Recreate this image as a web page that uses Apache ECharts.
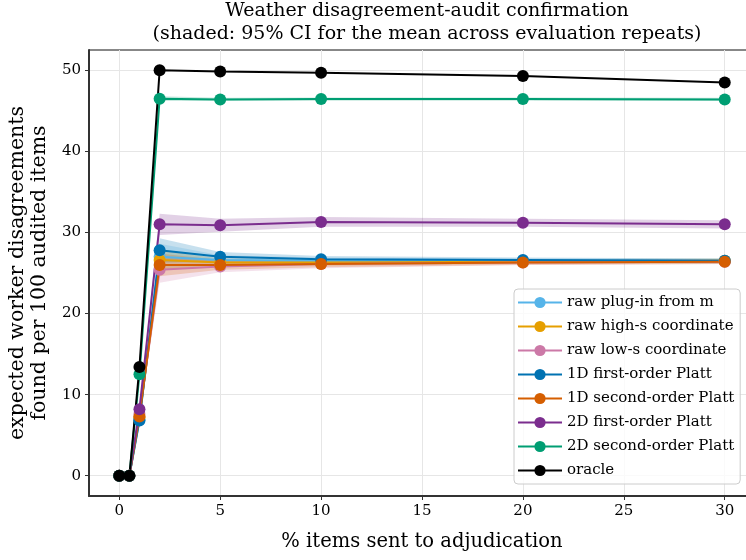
<!DOCTYPE html>
<html>
<head>
<meta charset="utf-8">
<script src="https://cdn.jsdelivr.net/npm/echarts@6/dist/echarts.min.js"></script>
<style>
html, body { margin: 0; padding: 0; background: #fff; }
#main { width: 746px; height: 560px; }
</style>
</head>
<body>
<div id="main"></div>
<script>
// x: % items sent to adjudication
var xs = [0, 0.5, 1, 2, 5, 10, 20, 30];
var xTicks = [0, 5, 10, 15, 20, 25, 30];
var yTicks = [0, 10, 20, 30, 40, 50];

var names = ['raw plug-in from m', 'raw high-s coordinate', 'raw low-s coordinate',
    '1D first-order Platt', '1D second-order Platt', '2D first-order Platt',
    '2D second-order Platt', 'oracle'];

// means
var rawPlugIn = [0, 0, 6.9, 27.0, 26.6, 26.5, 26.5, 26.5];
var rawHighS = [0, 0, 7.2, 26.6, 26.3, 26.3, 26.4, 26.5];
var rawLowS = [0, 0, 7.6, 25.4, 25.8, 26.1, 26.3, 26.4];
var first1D = [0, 0, 6.8, 27.8, 27.0, 26.7, 26.6, 26.5];
var second1D = [0, 0, 7.3, 26.0, 26.0, 26.1, 26.3, 26.4];
var first2D = [0, 0, 8.2, 31.0, 30.9, 31.3, 31.2, 31.0];
var second2D = [0, 0, 12.5, 46.5, 46.4, 46.45, 46.45, 46.4];
var oracle = [0, 0, 13.4, 50.0, 49.85, 49.7, 49.3, 48.5];

// 95% CI half widths
var ciRawPlugIn = [0, 0, 0.5, 1.6, 0.6, 0.4, 0.3, 0.3];
var ciRawHighS = [0, 0, 0.5, 1.2, 0.5, 0.4, 0.3, 0.3];
var ciRawLowS = [0, 0, 0.5, 1.6, 0.7, 0.5, 0.3, 0.3];
var ci1DFirst = [0, 0, 0.5, 1.5, 0.6, 0.4, 0.3, 0.3];
var ci1DSecond = [0, 0, 0.5, 1.4, 0.6, 0.4, 0.3, 0.3];
var ci2DFirst = [0, 0, 0.5, 1.3, 0.8, 0.6, 0.5, 0.5];
var ci2DSecond = [0, 0, 0.3, 0.3, 0.2, 0.2, 0.2, 0.2];
var ciOracle = [0, 0, 0, 0, 0, 0, 0, 0];

var colors = ['#56B4E9', '#E69F00', '#CC79A7', '#0072B2', '#D55E00', '#7B2D8E', '#009E73', '#000000'];
var means = [rawPlugIn, rawHighS, rawLowS, first1D, second1D, first2D, second2D, oracle];
var cis = [ciRawPlugIn, ciRawHighS, ciRawLowS, ci1DFirst, ci1DSecond, ci2DFirst, ci2DSecond, ciOracle];

var font = 'DejaVu Serif';

var series = [];
// shaded bands: one polygon per method, mapped through the axes
for (var i = 0; i < names.length; i++) {
    (function (k) {
        series.push({
            name: 'band' + k, type: 'custom', silent: true, z: 1,
            data: [[k]],
            encode: { x: -1, y: -1 },
            renderItem: function (params, api) {
                var upper = [], lower = [];
                for (var j = 0; j < xs.length; j++) {
                    upper.push(api.coord([xs[j], means[k][j] + cis[k][j]]));
                    lower.unshift(api.coord([xs[j], means[k][j] - cis[k][j]]));
                }
                return {
                    type: 'polygon',
                    shape: { points: upper.concat(lower) },
                    style: { fill: colors[k], opacity: 0.22 }
                };
            }
        });
    })(i);
}
// mean lines
for (var i = 0; i < names.length; i++) {
    var pts = [];
    for (var j = 0; j < xs.length; j++) pts.push([xs[j], means[i][j]]);
    series.push({
        name: names[i], type: 'line', data: pts, z: 2,
        symbol: 'circle', symbolSize: 12,
        itemStyle: { color: colors[i] },
        lineStyle: { color: colors[i], width: 2 }
    });
}

var myChart = echarts.init(document.getElementById('main'));
var option = {
    animation: false,
    backgroundColor: '#fff',
    title: {
        text: 'Weather disagreement-audit confirmation\n(shaded: 95% CI for the mean across evaluation repeats)',
        left: 422, top: -5, textAlign: 'center',
        textStyle: { fontFamily: font, fontWeight: 'normal', fontSize: 19, lineHeight: 23, color: '#000' }
    },
    grid: {
        left: 89, top: 50, right: -9, bottom: 64,
        containLabel: false, outerBoundsMode: 'none',
        show: true, borderColor: '#111', borderWidth: 1
    },
    legend: {
        data: names,
        orient: 'vertical',
        left: 514, top: 289,
        padding: [6, 6, 6, 3],
        itemWidth: 44, itemHeight: 14, itemGap: 9,
        backgroundColor: 'rgba(255,255,255,0.8)',
        borderColor: '#ccc', borderWidth: 1, borderRadius: 4,
        textStyle: { fontFamily: font, fontSize: 15, lineHeight: 15, color: '#000' }
    },
    xAxis: {
        type: 'value', min: -1.5, max: 31.5,
        name: '% items sent to adjudication',
        nameLocation: 'middle', nameGap: 36,
        nameTextStyle: { fontFamily: font, fontSize: 19.5, color: '#000' },
        axisLine: { show: true, onZero: false, lineStyle: { color: '#333', width: 2 } },
        axisTick: { show: true, customValues: xTicks, length: 4, lineStyle: { color: '#333' } },
        axisLabel: { customValues: xTicks, fontFamily: font, fontSize: 15, color: '#000', margin: 8 },
        splitLine: { show: true, lineStyle: { color: '#e6e6e6', width: 1 } }
    },
    yAxis: {
        type: 'value', min: -2.5, max: 52.5,
        name: 'expected worker disagreements\nfound per 100 audited items',
        nameLocation: 'middle', nameGap: 32, nameRotate: 90,
        nameTextStyle: { fontFamily: font, fontSize: 20.5, lineHeight: 22, color: '#000' },
        axisLine: { show: true, onZero: false, lineStyle: { color: '#333', width: 2 } },
        axisTick: { show: true, customValues: yTicks, length: 4, lineStyle: { color: '#333' } },
        axisLabel: { customValues: yTicks, fontFamily: font, fontSize: 15, color: '#000', margin: 8 },
        splitLine: { show: true, lineStyle: { color: '#e6e6e6', width: 1 } }
    },
    series: series
};
myChart.setOption(option);
</script>
</body>
</html>
